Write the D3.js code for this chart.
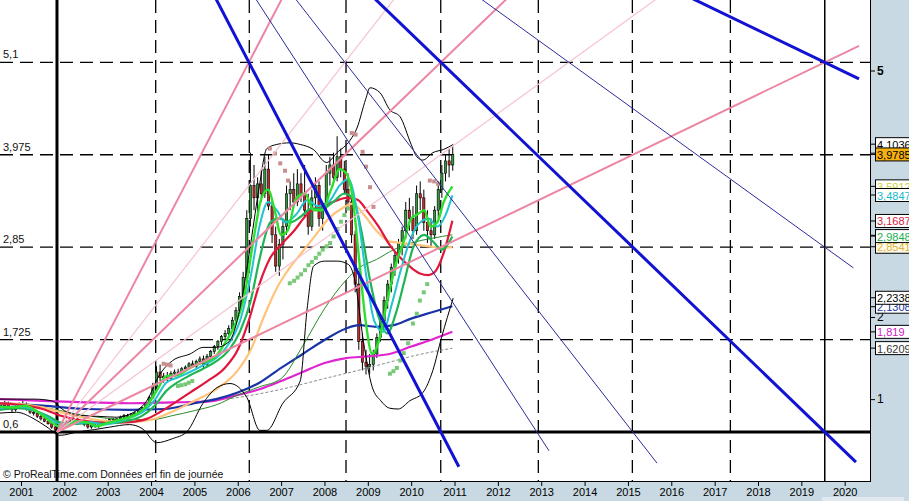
<!DOCTYPE html>
<html><head><meta charset="utf-8">
<script src="https://cdn.jsdelivr.net/npm/d3@7"></script>
<style>
html,body{margin:0;padding:0;background:#fff;overflow:hidden;}
svg{display:block;font-family:"Liberation Sans",Arial,sans-serif;}
</style></head><body>
<svg id="c" width="909" height="501"></svg>
<script>
// ---------------- DATA ----------------
const years = d3.range(2001, 2021);
const firstCandleYear = 2000, firstCandleMonth = 6; // July 2000, monthly candles
const opens = [
 0.90,0.92,0.95,0.89,0.87,0.91,
 0.93,0.94,0.88,0.84,0.83,0.79,0.76,0.73,0.70,0.66,0.63,0.64,
 0.68,0.72,0.74,0.76,0.74,0.72,0.69,0.66,0.68,0.67,0.70,0.72,
 0.71,0.75,0.73,0.76,0.78,0.80,0.79,0.82,0.83,0.85,0.90,0.95,
 1.02,1.15,1.33,1.26,1.28,1.25,1.31,1.33,1.32,1.37,1.39,1.43,
 1.40,1.46,1.49,1.42,1.52,1.58,1.64,1.70,1.76,1.80,1.86,1.96,
 2.08,2.25,2.48,3.20,3.60,3.45,3.62,3.50,3.80,3.35,3.00,2.62,
 2.88,3.10,3.50,3.55,3.40,3.62,3.50,3.30,3.10,3.45,3.60,3.20,
 3.35,3.75,3.85,3.70,3.95,3.80,3.55,3.40,3.00,2.40,1.70,1.45,
 1.40,1.42,1.55,1.75,1.95,2.20,2.40,2.60,2.75,2.90,3.05,3.30,
 3.20,3.05,3.50,3.45,3.15,3.05,3.00,3.30,3.55,3.75,3.90,3.85];
const highs = [
 0.95,0.98,0.97,0.92,0.93,0.96,
 0.98,0.96,0.90,0.88,0.85,0.81,0.78,0.75,0.72,0.68,0.66,0.70,
 0.74,0.76,0.78,0.78,0.76,0.74,0.71,0.70,0.70,0.71,0.74,0.75,
 0.76,0.77,0.77,0.80,0.82,0.82,0.83,0.85,0.87,0.91,0.96,1.04,
 1.20,1.40,1.42,1.32,1.33,1.34,1.36,1.37,1.39,1.41,1.45,1.47,
 1.48,1.52,1.53,1.55,1.60,1.66,1.72,1.78,1.84,1.90,2.00,2.12,
 2.30,2.55,3.30,4.00,3.85,3.70,3.80,3.95,3.98,3.45,3.10,2.95,
 3.20,3.60,3.65,3.75,3.80,3.75,3.85,3.50,3.55,3.70,3.65,3.40,
 3.85,3.95,4.00,4.20,4.05,3.90,3.75,3.60,3.05,2.50,1.80,1.60,
 1.55,1.60,1.80,2.00,2.25,2.45,2.65,2.80,2.95,3.10,3.40,3.45,
 3.35,3.60,3.65,3.55,3.30,3.20,3.35,3.65,3.85,3.98,4.05,4.08];
const lows = [
 0.86,0.88,0.87,0.84,0.85,0.88,
 0.90,0.86,0.82,0.80,0.77,0.74,0.72,0.69,0.64,0.61,0.60,0.63,
 0.66,0.70,0.72,0.72,0.70,0.67,0.64,0.64,0.65,0.65,0.68,0.69,
 0.70,0.71,0.71,0.74,0.76,0.77,0.78,0.80,0.81,0.84,0.88,0.93,
 1.00,1.12,1.22,1.20,1.22,1.23,1.27,1.28,1.30,1.33,1.36,1.38,
 1.38,1.42,1.38,1.40,1.48,1.55,1.60,1.66,1.72,1.76,1.83,1.93,
 2.05,2.20,2.45,3.10,3.30,3.20,3.40,3.45,3.30,2.90,2.55,2.50,
 2.70,3.00,3.30,3.35,3.35,3.40,3.20,3.00,3.05,3.30,3.10,3.05,
 3.25,3.60,3.60,3.65,3.70,3.50,3.30,2.90,2.30,1.60,1.35,1.30,
 1.30,1.35,1.50,1.70,1.90,2.10,2.30,2.50,2.65,2.75,2.95,3.05,
 2.95,3.00,3.30,3.05,2.90,2.85,2.95,3.20,3.45,3.65,3.70,3.78];
const closes = [
 0.92,0.95,0.89,0.87,0.91,0.93,
 0.94,0.88,0.84,0.83,0.79,0.76,0.73,0.70,0.66,0.63,0.64,0.68,
 0.72,0.74,0.76,0.74,0.72,0.69,0.66,0.68,0.67,0.70,0.72,0.71,
 0.75,0.73,0.76,0.78,0.80,0.79,0.82,0.83,0.85,0.90,0.95,1.02,
 1.15,1.33,1.26,1.28,1.25,1.31,1.33,1.32,1.37,1.39,1.43,1.40,
 1.46,1.49,1.42,1.52,1.58,1.64,1.70,1.76,1.80,1.86,1.96,2.08,
 2.25,2.48,3.20,3.60,3.45,3.62,3.50,3.80,3.35,3.00,2.62,2.88,
 3.10,3.50,3.55,3.40,3.62,3.50,3.30,3.10,3.45,3.60,3.20,3.35,
 3.75,3.85,3.70,3.95,3.80,3.55,3.40,3.00,2.40,1.70,1.45,1.40,
 1.42,1.55,1.75,1.95,2.20,2.40,2.60,2.75,2.90,3.05,3.30,3.20,
 3.05,3.50,3.45,3.15,3.05,3.00,3.30,3.55,3.75,3.90,3.85,3.98];

// moving averages [decimal year, value]
const maLime = [[2000.5,0.91],[2000.8,0.9],[2001.1,0.92],[2001.4,0.84],[2001.7,0.72],[2001.95,0.65],[2002.25,0.73],[2002.5,0.72],[2002.75,0.67],[2003.0,0.71],[2003.3,0.75],[2003.6,0.8],[2003.9,0.92],[2004.15,1.12],[2004.35,1.28],[2004.6,1.29],[2004.9,1.38],[2005.2,1.45],[2005.45,1.5],[2005.7,1.68],[2005.95,1.92],[2006.15,2.25],[2006.35,2.9],[2006.55,3.45],[2006.7,3.55],[2006.85,3.3],[2007.0,3.0],[2007.15,3.05],[2007.35,3.45],[2007.55,3.5],[2007.75,3.3],[2007.95,3.3],[2008.15,3.55],[2008.35,3.8],[2008.5,3.75],[2008.65,3.45],[2008.8,2.7],[2008.95,1.95],[2009.1,1.55],[2009.25,1.7],[2009.45,2.2],[2009.65,2.65],[2009.85,2.95],[2010.0,3.2],[2010.15,3.25],[2010.3,3.3],[2010.45,3.1],[2010.6,3.15],[2010.75,3.4],[2010.95,3.59]];
const maCyan = [[2000.5,0.89],[2000.9,0.91],[2001.3,0.87],[2001.6,0.78],[2001.95,0.69],[2002.3,0.71],[2002.6,0.72],[2002.9,0.69],[2003.2,0.72],[2003.5,0.77],[2003.8,0.84],[2004.1,1.0],[2004.35,1.2],[2004.6,1.26],[2004.9,1.33],[2005.2,1.41],[2005.5,1.5],[2005.8,1.68],[2006.05,1.95],[2006.3,2.5],[2006.5,3.1],[2006.7,3.4],[2006.9,3.3],[2007.1,3.15],[2007.35,3.25],[2007.6,3.42],[2007.85,3.35],[2008.1,3.4],[2008.35,3.6],[2008.55,3.68],[2008.75,3.3],[2008.95,2.55],[2009.15,1.95],[2009.35,1.82],[2009.55,2.15],[2009.75,2.55],[2009.95,2.9],[2010.15,3.12],[2010.4,3.2],[2010.6,3.1],[2010.8,3.25],[2010.95,3.48]];
const maGreen = [[2000.5,0.87],[2000.9,0.89],[2001.3,0.86],[2001.6,0.8],[2001.95,0.71],[2002.3,0.7],[2002.6,0.71],[2002.9,0.7],[2003.2,0.71],[2003.5,0.74],[2003.8,0.8],[2004.1,0.93],[2004.35,1.1],[2004.6,1.2],[2004.9,1.29],[2005.2,1.37],[2005.5,1.46],[2005.8,1.6],[2006.05,1.82],[2006.3,2.2],[2006.5,2.7],[2006.75,3.15],[2006.95,3.2],[2007.2,3.15],[2007.45,3.22],[2007.7,3.32],[2007.95,3.32],[2008.2,3.4],[2008.45,3.5],[2008.65,3.45],[2008.85,3.05],[2009.05,2.45],[2009.25,2.0],[2009.45,1.8],[2009.65,2.05],[2009.85,2.45],[2010.05,2.85],[2010.3,3.0],[2010.5,2.92],[2010.7,2.82],[2010.95,2.98]];
const maRed = [[2000.5,0.95],[2001.0,0.93],[2001.5,0.88],[2001.9,0.8],[2002.3,0.75],[2002.7,0.72],[2003.0,0.71],[2003.5,0.72],[2003.9,0.76],[2004.2,0.84],[2004.5,0.94],[2004.9,1.08],[2005.3,1.22],[2005.7,1.38],[2006.0,1.6],[2006.25,1.95],[2006.5,2.4],[2006.75,2.72],[2007.0,2.88],[2007.3,3.05],[2007.6,3.25],[2007.9,3.35],[2008.2,3.4],[2008.5,3.45],[2008.75,3.43],[2009.0,3.28],[2009.25,3.1],[2009.5,2.88],[2009.75,2.72],[2010.0,2.6],[2010.2,2.53],[2010.4,2.51],[2010.55,2.55],[2010.75,2.78],[2010.95,3.17]];
const maOrange = [[2000.5,0.95],[2001.0,0.94],[2001.5,0.9],[2002.0,0.83],[2002.5,0.77],[2003.0,0.73],[2003.5,0.72],[2004.0,0.75],[2004.5,0.85],[2005.0,0.98],[2005.5,1.12],[2006.0,1.35],[2006.3,1.6],[2006.6,2.0],[2006.9,2.35],[2007.2,2.6],[2007.5,2.8],[2007.8,3.0],[2008.1,3.2],[2008.4,3.32],[2008.65,3.38],[2008.9,3.25],[2009.2,3.05],[2009.5,2.92],[2009.8,2.9],[2010.1,2.88],[2010.4,2.86],[2010.7,2.84],[2010.95,2.85]];
const maDarkGreen = [[2000.5,0.95],[2001.5,0.9],[2002.5,0.8],[2003.5,0.75],[2004.0,0.75],[2004.5,0.8],[2005.0,0.86],[2005.5,0.93],[2006.0,1.05],[2006.5,1.15],[2007.0,1.25],[2007.5,1.65],[2008.0,2.1],[2008.5,2.45],[2008.8,2.6],[2009.2,2.7],[2009.6,2.82],[2010.0,2.9],[2010.5,2.96],[2010.95,3.0]];
const maBlue = [[2000.5,0.95],[2001.5,0.92],[2002.5,0.88],[2003.5,0.87],[2004.3,0.88],[2005.0,0.95],[2005.5,1.0],[2006.0,1.08],[2006.5,1.2],[2007.0,1.38],[2007.5,1.55],[2008.0,1.72],[2008.5,1.86],[2008.8,1.9],[2009.2,1.88],[2009.6,1.9],[2010.0,1.98],[2010.5,2.06],[2010.95,2.13]];
const maMagenta = [[2000.5,1.0],[2001.5,0.98],[2002.5,0.96],[2003.5,0.95],[2004.5,0.96],[2005.3,0.97],[2006.0,1.05],[2006.5,1.12],[2007.0,1.22],[2007.5,1.33],[2008.0,1.44],[2008.5,1.5],[2009.0,1.52],[2009.5,1.55],[2010.0,1.64],[2010.5,1.73],[2010.95,1.82]];
const maGray = [[2004.0,0.95],[2005.0,0.97],[2006.0,1.02],[2007.0,1.12],[2008.0,1.25],[2009.0,1.38],[2009.5,1.45],[2010.0,1.52],[2010.95,1.62]];
const bbUpper = [[2000.5,1.0],[2000.9,1.0],[2001.3,1.0],[2001.7,0.98],[2002.0,0.86],[2002.4,0.8],[2002.8,0.79],[2003.2,0.78],[2003.6,0.84],[2003.9,0.98],[2004.2,1.3],[2004.5,1.47],[2004.9,1.55],[2005.2,1.63],[2005.5,1.63],[2005.8,1.7],[2006.05,2.1],[2006.3,2.9],[2006.5,3.6],[2006.67,4.05],[2006.9,4.1],[2007.2,4.12],[2007.44,4.1],[2007.74,4.04],[2008.05,3.88],[2008.29,4.0],[2008.59,4.15],[2008.75,4.3],[2008.95,4.65],[2009.05,4.79],[2009.28,4.73],[2009.51,4.52],[2009.74,4.44],[2010.0,4.1],[2010.13,3.95],[2010.27,3.91],[2010.5,4.0],[2010.75,4.04],[2010.97,4.1]];
const bbLower = [[2000.5,0.83],[2000.9,0.84],[2001.3,0.76],[2001.6,0.66],[2001.9,0.56],[2002.3,0.6],[2002.7,0.63],[2003.05,0.66],[2003.5,0.69],[2003.8,0.64],[2004.13,0.47],[2004.5,0.52],[2004.82,0.6],[2005.2,0.95],[2005.52,1.14],[2005.82,1.19],[2006.21,1.02],[2006.51,0.62],[2006.67,0.62],[2007.04,0.95],[2007.44,1.22],[2007.6,2.1],[2007.75,2.62],[2008.0,2.68],[2008.3,2.68],[2008.55,2.64],[2008.7,2.45],[2008.9,1.7],[2009.1,1.15],[2009.3,0.98],[2009.5,0.89],[2009.7,0.88],[2009.97,0.98],[2010.27,1.08],[2010.5,1.35],[2010.7,1.75],[2010.97,2.23]];

// parabolic SAR dots [decimal year, value]
const sarAbove = [[2004.29,1.43],[2004.37,1.42],[2004.45,1.41],[2006.74,4.05],[2006.86,3.99],[2006.98,3.87],[2007.09,3.78],[2007.16,3.66],[2008.63,4.24],[2008.72,4.22],[2008.88,4.01],[2008.96,3.83],[2009.05,3.58],[2009.13,3.34],[2010.43,3.66],[2010.53,3.65],[2010.62,3.62]];
const sarBelow = [[2004.62,1.16],[2004.7,1.17],[2004.79,1.18],[2004.87,1.2],[2004.95,1.22],[2007.2,2.41],[2007.3,2.44],[2007.38,2.48],[2007.46,2.52],[2007.55,2.57],[2007.63,2.63],[2007.71,2.67],[2007.8,2.72],[2007.88,2.77],[2007.96,2.82],[2008.05,2.86],[2008.13,2.9],[2008.21,2.98],[2008.3,3.07],[2008.38,3.16],[2008.46,3.24],[2008.55,3.32],[2009.51,1.31],[2009.59,1.34],[2009.67,1.38],[2009.75,1.47],[2009.83,1.56],[2009.93,1.68],[2010.04,1.92],[2010.13,2.04],[2010.2,2.2],[2010.29,2.3],[2010.37,2.4]];

// Gann grid / fans
const gridLevels = [0.6, 1.725, 2.85, 3.975, 5.1];
const gridLevelLabels = ["0,6","1,725","2,85","3,975","5,1"];
const gridDates = [2001.83, 2004.107, 2006.266, 2008.497, 2010.682, 2012.933, 2015.102, 2017.363, 2019.54];
const fanPivotYear = 2001.83, fanLowValue = 0.6, fanHighValue = 9.6;
const fanCellYears = 2.2136, fanCellValue = 1.125;
const pinkRatios = [2, 4/3, 1, 3/4, 1/2];
const pinkMajor = [true, false, true, false, true];
const pinkEndYear = 2020.33;
const blueRatios = [2, 1.6, 4/3, 1, 3/4, 1/2];
const blueMajor = [true, false, false, true, false, true];
const blueEndYears = [2011.10, 2013.18, 2015.67, 2020.26, 2020.20, 2020.33];

// right-side last-value tags (draw order)
const tagSeries = ["lime","cyan","bbUpper","price","orange","green","red","blue","bbLower","magenta","gray"];
const tagValues = [3.59, 3.4847, 4.1036, 3.9785, 2.855, 2.9848, 3.1687, 2.125, 2.2338, 1.819, 1.6209];
const tagLabels = ["3,5912","3,4847","4,1036","3,9785","2,8541","2,9848","3,1687","2,1308","2,2338","1,819","1,6209"];
const rightTicks = [1,2,3,4,5];
const rightTickLabels = [1,2,5]; // 3 and 4 are hidden under the value tags

// ---------------- STYLES ----------------
const C = {
  panel:"#c8d9e3", lime:"#2ee02e", cyan:"#22c4d0", green:"#1fb555", red:"#e0163c",
  orange:"#ffc47a", darkGreen:"#2a8a2a", blue:"#1a34a8", magenta:"#e024d0", gray:"#8a8a8a",
  bb:"#000", pinkDark:"#ec86a2", pinkLight:"#f5c3d0", blueThick:"#1212d2", blueThin:"#2c2c9c",
  sarAbove:"#c98f8f", sarBelow:"#78c878", up:"#2f9a3a", down:"#c82828"
};
const tagStyle = {
  lime:{fg:"#c8d040",bg:"#fff"}, cyan:{fg:"#22b8c8",bg:"#fff"}, bbUpper:{fg:"#000",bg:"#fff"},
  price:{fg:"#000",bg:"#f6b010"}, orange:{fg:"#e0b040",bg:"#fffbe8"}, green:{fg:"#20b050",bg:"#fff"},
  red:{fg:"#d81840",bg:"#fff"}, blue:{fg:"#1a34a8",bg:"#fff"}, bbLower:{fg:"#000",bg:"#fff"},
  magenta:{fg:"#d020c8",bg:"#fff"}, gray:{fg:"#333",bg:"#fff"}
};

// ---------------- SCALES ----------------
const W = 909, H = 501, plotR = 870, plotB = 481;
const x = d3.scaleLinear().domain([2001, 2020]).range([21, 844.7]);
const y = d3.scaleLinear().domain([0.6, 5.1]).range([432, 62.3]);

const svg = d3.select("#c");
svg.append("rect").attr("width",W).attr("height",H).attr("fill","#fff");
const defs = svg.append("defs");
defs.append("clipPath").attr("id","plot")
  .append("rect").attr("x",0).attr("y",0).attr("width",plotR).attr("height",plotB);
defs.append("clipPath").attr("id","tags")
  .append("rect").attr("x",plotR+1).attr("y",0).attr("width",W-plotR-1).attr("height",plotB);
const g = svg.append("g").attr("clip-path","url(#plot)");

// grid
const dash = "13,7";
g.selectAll(".hl").data(gridLevels).join("line")
  .attr("x1",0).attr("x2",plotR).attr("y1",d=>y(d)).attr("y2",d=>y(d))
  .attr("stroke","#000").attr("stroke-width",(d,i)=>i===0?3:1.3)
  .attr("stroke-dasharray",(d,i)=>i===0?null:dash);
g.selectAll(".vl").data(gridDates).join("line")
  .attr("x1",d=>x(d)).attr("x2",d=>x(d)).attr("y1",0).attr("y2",plotB)
  .attr("stroke","#000").attr("stroke-width",(d,i)=>i===0?3:(i===gridDates.length-1?1.5:1.3))
  .attr("stroke-dasharray",(d,i)=>(i===0||i===gridDates.length-1)?null:dash);

// candles
const candles = closes.map((c,i)=>{
  const t = firstCandleYear + (firstCandleMonth + i + 0.5)/12;
  return {t, o:opens[i], h:highs[i], l:lows[i], c};
});
const bw = (x(1/12)-x(0))*0.62;
const cg = g.append("g");
cg.selectAll(".wick").data(candles).join("line")
  .attr("x1",d=>x(d.t)).attr("x2",d=>x(d.t)).attr("y1",d=>y(d.h)).attr("y2",d=>y(d.l))
  .attr("stroke","#000").attr("stroke-width",1);
cg.selectAll(".body").data(candles).join("rect")
  .attr("x",d=>x(d.t)-bw/2).attr("width",bw)
  .attr("y",d=>y(Math.max(d.o,d.c))).attr("height",d=>Math.max(1,Math.abs(y(d.o)-y(d.c))))
  .attr("fill",d=>d.c>=d.o?C.up:C.down).attr("stroke","#000").attr("stroke-width",0.6);

// indicator lines
const line = d3.line().x(d=>x(d[0])).y(d=>y(d[1])).curve(d3.curveMonotoneX);
const series = [
  [maGray, C.gray, 1, "3,2"], [maMagenta, C.magenta, 2.2], [maBlue, C.blue, 2.2],
  [maDarkGreen, C.darkGreen, 1], [maOrange, C.orange, 2.2], [maRed, C.red, 2.2],
  [maGreen, C.green, 2.2], [maCyan, C.cyan, 2], [maLime, C.lime, 2.4],
  [bbUpper, C.bb, 1], [bbLower, C.bb, 1]
];
series.forEach(([data,col,w,da])=>{
  g.append("path").datum(data).attr("d",line).attr("fill","none")
   .attr("stroke",col).attr("stroke-width",w).attr("stroke-dasharray",da||null)
   .attr("stroke-linejoin","round");
});

// SAR
g.selectAll(".sa").data(sarAbove).join("rect")
  .attr("x",d=>x(d[0])-2).attr("y",d=>y(d[1])-2).attr("width",4).attr("height",4).attr("fill",C.sarAbove);
g.selectAll(".sb").data(sarBelow).join("rect")
  .attr("x",d=>x(d[0])-2).attr("y",d=>y(d[1])-2).attr("width",4).attr("height",4).attr("fill",C.sarBelow);

// fans
const slopeUnit = fanCellValue / fanCellYears;
pinkRatios.forEach((r,i)=>{
  const v2 = fanLowValue + r*slopeUnit*(pinkEndYear - fanPivotYear);
  g.append("line").attr("x1",x(fanPivotYear)).attr("y1",y(fanLowValue))
   .attr("x2",x(pinkEndYear)).attr("y2",y(v2))
   .attr("stroke",pinkMajor[i]?C.pinkDark:C.pinkLight).attr("stroke-width",pinkMajor[i]?2:1.2);
});
blueRatios.forEach((r,i)=>{
  const e = blueEndYears[i];
  const v2 = fanHighValue - r*slopeUnit*(e - fanPivotYear);
  g.append("line").attr("x1",x(fanPivotYear)).attr("y1",y(fanHighValue))
   .attr("x2",x(e)).attr("y2",y(v2))
   .attr("stroke",blueMajor[i]?C.blueThick:C.blueThin).attr("stroke-width",blueMajor[i]?3:1);
});

// level labels
svg.selectAll(".ll").data(gridLevels).join("text")
  .attr("x",3).attr("y",d=>y(d)-4).text((d,i)=>gridLevelLabels[i])
  .attr("font-size",11).attr("fill","#111");

// copyright
svg.append("text").attr("x",3).attr("y",478).attr("font-size",10.5).attr("fill","#111")
  .text("\u00A9 ProRealTime.com  Donn\u00E9es en fin de journ\u00E9e");

// panels
svg.append("rect").attr("x",plotR+1).attr("y",0).attr("width",W-plotR-1).attr("height",H).attr("fill",C.panel);
svg.append("rect").attr("x",0).attr("y",plotB+1).attr("width",W).attr("height",H-plotB-1).attr("fill",C.panel);
svg.append("rect").attr("x",822).attr("y",497).attr("width",82).attr("height",4).attr("fill","#dfe9ef");
svg.append("line").attr("x1",plotR+0.5).attr("x2",plotR+0.5).attr("y1",0).attr("y2",plotB+1).attr("stroke","#000");
svg.append("line").attr("x1",0).attr("x2",plotR+1).attr("y1",plotB+0.5).attr("y2",plotB+0.5).attr("stroke","#000");

// bottom axis
const xa = svg.append("g").attr("transform",`translate(0,${plotB+1})`)
  .call(d3.axisBottom(x).tickValues(years).tickFormat(d3.format("d")).tickSize(4).tickPadding(2));
xa.select(".domain").remove();
xa.selectAll("text").attr("font-size",11).attr("fill","#000").attr("font-family","Liberation Sans, Arial, sans-serif");
xa.selectAll("line").attr("stroke","#000");

// right axis
const ya = svg.append("g").attr("transform",`translate(${plotR+1},0)`)
  .call(d3.axisRight(y).tickValues(rightTicks)
    .tickFormat(d=>rightTickLabels.includes(d)?d3.format("d")(d):"").tickSize(4).tickPadding(2));
ya.select(".domain").remove();
ya.selectAll("text").attr("font-size",12).attr("fill","#000")
  .attr("font-weight",d=>d===5?"bold":"normal").attr("font-family","Liberation Sans, Arial, sans-serif");
ya.selectAll("line").attr("stroke","#000");

// last-value tags
const tg = svg.append("g").attr("clip-path","url(#tags)");
tagSeries.forEach((s,i)=>{
  const cy = y(tagValues[i]);
  const st = tagStyle[s];
  tg.append("line").attr("x1",plotR+1).attr("x2",plotR+5).attr("y1",cy).attr("y2",cy).attr("stroke","#000");
  tg.append("rect").attr("x",875.5).attr("y",cy-6.5).attr("width",40).attr("height",13)
    .attr("fill",st.bg).attr("stroke","#000").attr("stroke-width",1);
  tg.append("text").attr("x",877).attr("y",cy+4.5).attr("font-size",11).attr("fill",st.fg).text(tagLabels[i]);
});
</script>
</body></html>
